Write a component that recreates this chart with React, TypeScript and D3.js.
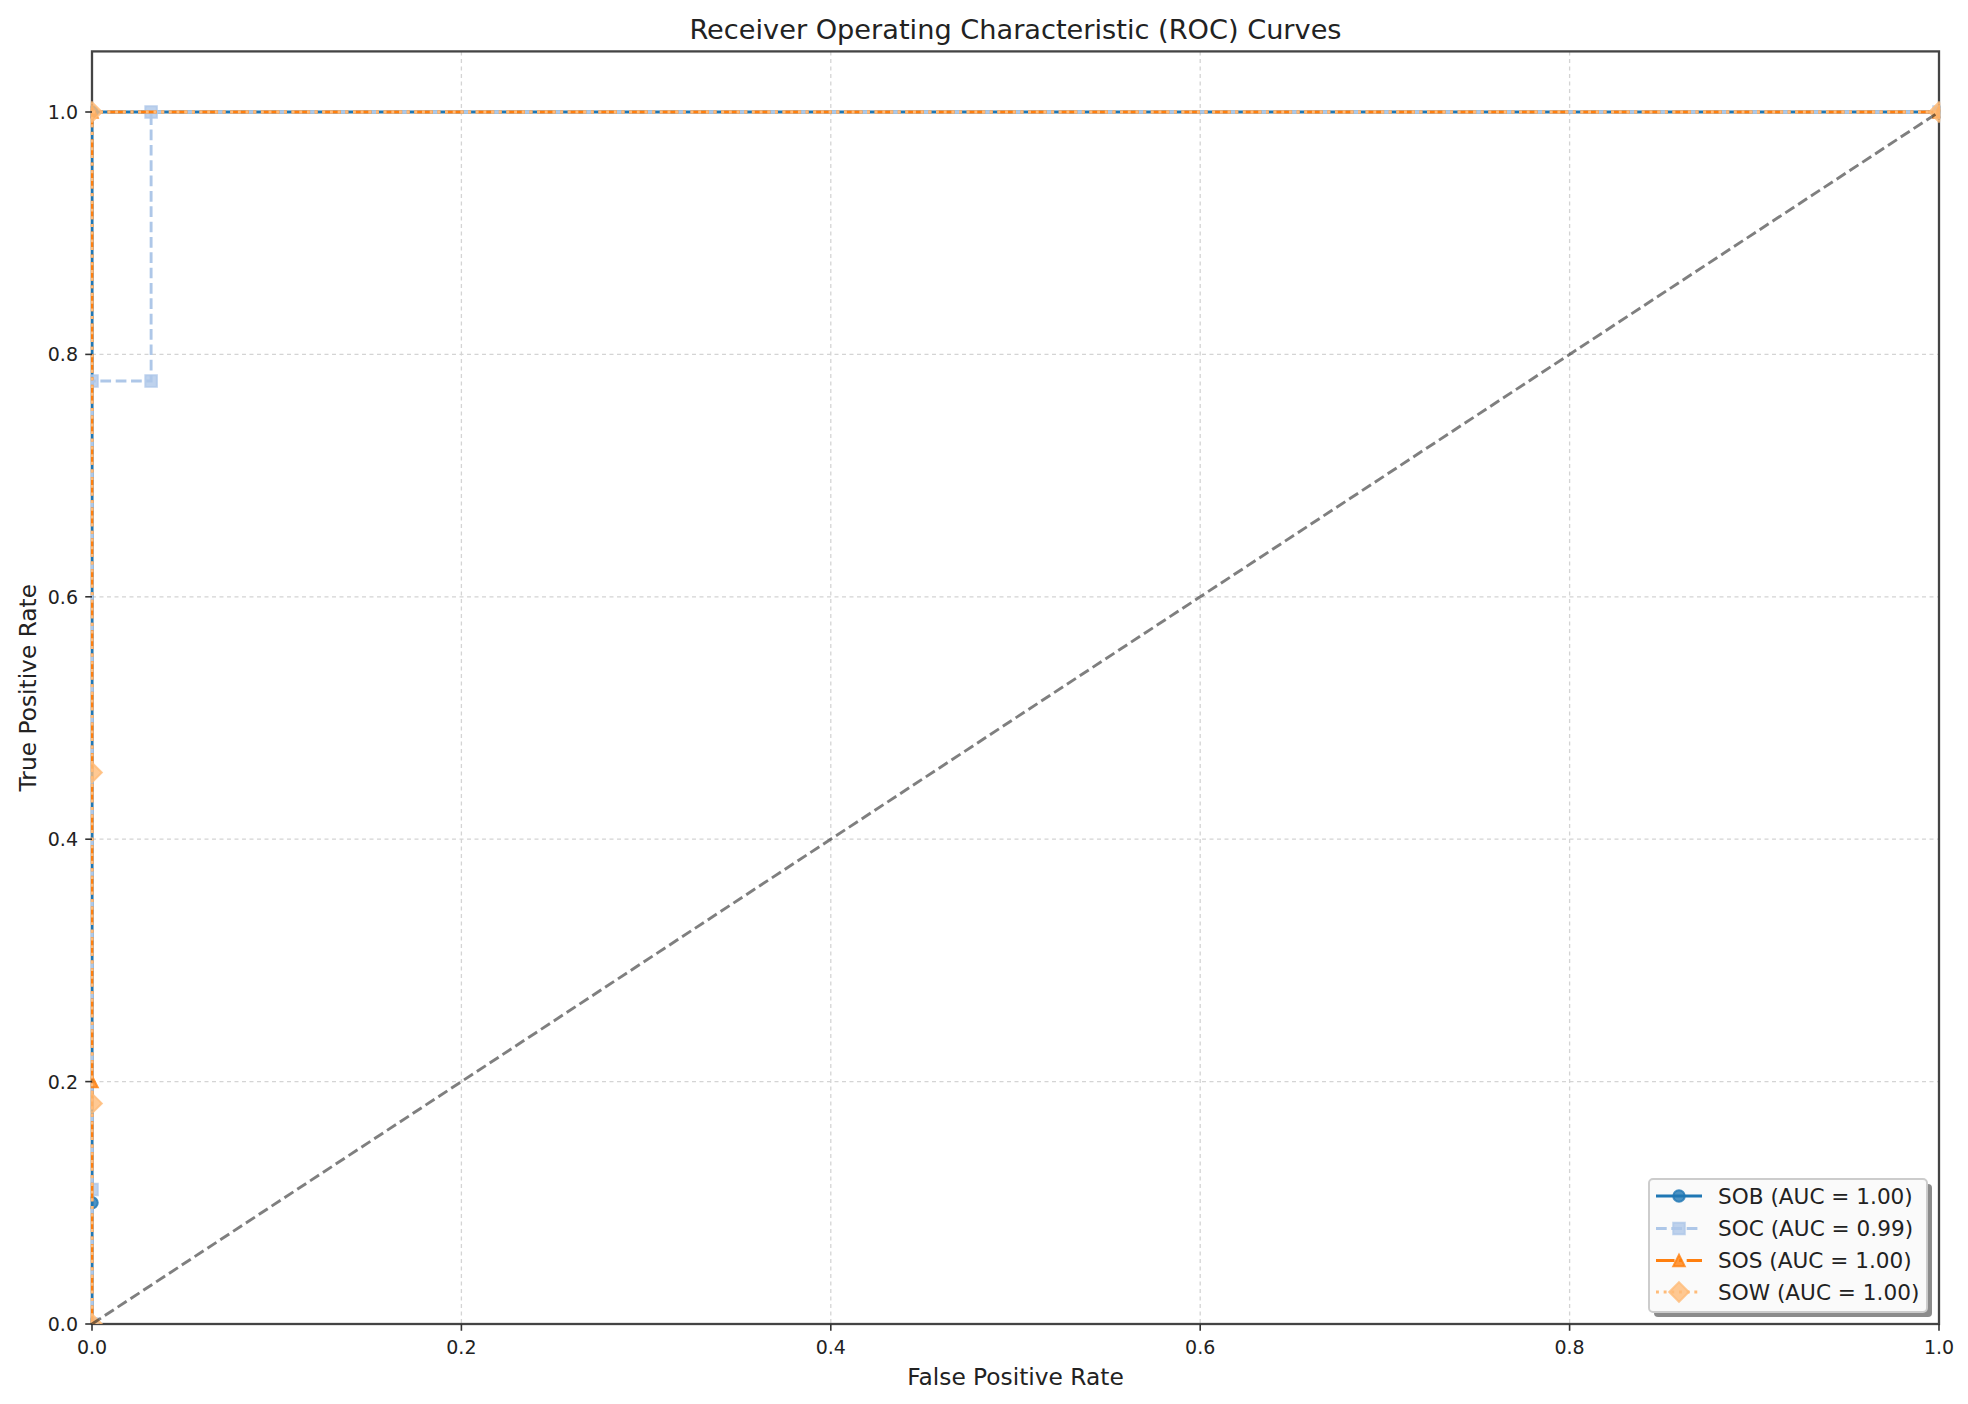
import React, { useEffect } from "react";
import * as d3 from "d3";

const seriesNames = ["SOB", "SOC", "SOS", "SOW"];
const aucLabels = ["1.00", "0.99", "1.00", "1.00"];
const sobFpr = [0, 0, 0, 1];
const sobTpr = [0, 0.1, 1, 1];
const socFpr = [0, 0, 0, 0.032, 0.032, 1];
const socTpr = [0, 0.111, 0.778, 0.778, 1, 1];
const sosFpr = [0, 0, 0, 1];
const sosTpr = [0, 0.2, 1, 1];
const sowFpr = [0, 0, 0, 0, 1];
const sowTpr = [0, 0.182, 0.455, 1, 1];
const xTicks = [0, 0.2, 0.4, 0.6, 0.8, 1.0];
const yTicks = [0, 0.2, 0.4, 0.6, 0.8, 1.0];

const W = 1968;
const H = 1404;
const L = 92, R = 1939, T = 51.4, B = 1324;
const PT = 1.93;
const LW = 1.5 * PT;
const MS = 6 * PT;
const MEW = 1 * PT;
const M_ALPHA = 0.8;
const FONT = "DejaVu Sans";

const colors = ["#1f77b4", "#aec7e8", "#ff7f0e", "#ffbb78"];
const dashes = [
  "",
  `${3.7 * LW} ${1.6 * LW}`,
  `${6.4 * LW} ${1.6 * LW} ${1 * LW} ${1.6 * LW}`,
  `${1 * LW} ${1.65 * LW}`,
];
const markerKinds = ["circle", "square", "triangle", "diamond"];

function markerPath(kind: string, s: number): string {
  const h = s / 2;
  if (kind === "circle") {
    return `M${h},0A${h},${h} 0 1,1 ${-h},0A${h},${h} 0 1,1 ${h},0Z`;
  }
  if (kind === "square") return `M${-h},${-h}H${h}V${h}H${-h}Z`;
  if (kind === "triangle") return `M0,${-h}L${h},${h}L${-h},${h}Z`;
  const d = s * 0.85;
  return `M0,${-d}L${d},0L0,${d}L${-d},0Z`;
}

export default function App() {
  useEffect(() => {
    document.body.style.margin = "0";
  }, []);

  const x = d3.scaleLinear().domain([0, 1]).range([L, R]);
  const y = d3.scaleLinear().domain([0, 1.05]).range([B, T]);

  const series = [
    { fpr: sobFpr, tpr: sobTpr },
    { fpr: socFpr, tpr: socTpr },
    { fpr: sosFpr, tpr: sosTpr },
    { fpr: sowFpr, tpr: sowTpr },
  ];

  const line = d3
    .line<[number, number]>()
    .x((d) => x(d[0]))
    .y((d) => y(d[1]));

  const tickFs = 19;
  const labelFs = 23.3;
  const titleFs = 27.2;
  const legFs = 21.6;

  const legX = 1649, legY = 1179, legW = 278, legH = 133;
  const rowYs = [1196, 1228.5, 1260.5, 1292];
  const hx0 = 1656, hx1 = 1702;

  return (
    <svg width={W} height={H} xmlns="http://www.w3.org/2000/svg" style={{ display: "block", background: "#fff" }}>
      <defs>
        <clipPath id="axclip">
          <rect x={L - 1.2} y={T} width={R - L + 2.4} height={B - T} />
        </clipPath>
      </defs>
      <rect x={0} y={0} width={W} height={H} fill="#fff" />
      {/* grid */}
      <g stroke="#d4d4d4" strokeWidth={1.3} strokeDasharray="4 3.5">
        {xTicks.map((t, i) => (
          <line key={"gx" + i} x1={x(t)} x2={x(t)} y1={T} y2={B} />
        ))}
        {yTicks.map((t, i) => (
          <line key={"gy" + i} x1={L} x2={R} y1={y(t)} y2={y(t)} />
        ))}
      </g>
      {/* spines */}
      <rect x={L} y={T} width={R - L} height={B - T} fill="none" stroke="#444" strokeWidth={2.3} />
      {/* curves */}
      <g clipPath="url(#axclip)">
        {series.map((s, i) => {
          const pts: [number, number][] = s.fpr.map((f, j) => [f, s.tpr[j]]);
          return (
            <g key={"s" + i}>
              <path
                d={line(pts) || ""}
                fill="none"
                stroke={colors[i]}
                strokeWidth={LW}
                strokeDasharray={dashes[i] || undefined}
                strokeLinecap={i === 0 ? "square" : "butt"}
              />
              {pts.map((p, j) => (
                <path
                  key={j}
                  d={markerPath(markerKinds[i], MS)}
                  transform={`translate(${x(p[0])},${y(p[1])})`}
                  fill={colors[i]}
                  fillOpacity={M_ALPHA}
                  stroke={colors[i]}
                  strokeOpacity={M_ALPHA}
                  strokeWidth={MEW}
                />
              ))}
            </g>
          );
        })}
        <line
          x1={x(0)}
          y1={y(0)}
          x2={x(1)}
          y2={y(1)}
          stroke="#000"
          strokeOpacity={0.5}
          strokeWidth={LW}
          strokeDasharray={`${3.7 * LW} ${1.6 * LW}`}
        />
      </g>
      {/* ticks */}
      <g stroke="#333" strokeWidth={1.6}>
        {xTicks.map((t, i) => (
          <line key={"tx" + i} x1={x(t)} x2={x(t)} y1={B} y2={B + 3.5 * PT} />
        ))}
        {yTicks.map((t, i) => (
          <line key={"ty" + i} x1={L} x2={L - 3.5 * PT} y1={y(t)} y2={y(t)} />
        ))}
      </g>
      <g fontFamily={FONT} fontSize={tickFs} fill="#222">
        {xTicks.map((t, i) => (
          <text key={"lx" + i} x={x(t)} y={B + 30} textAnchor="middle">
            {d3.format(".1f")(t)}
          </text>
        ))}
        {yTicks.map((t, i) => (
          <text key={"ly" + i} x={L - 14} y={y(t) + 7} textAnchor="end">
            {d3.format(".1f")(t)}
          </text>
        ))}
      </g>
      <text x={(L + R) / 2} y={1385} textAnchor="middle" fontFamily={FONT} fontSize={labelFs} fill="#222">
        False Positive Rate
      </text>
      <text
        transform={`translate(${36},${(T + B) / 2}) rotate(-90)`}
        textAnchor="middle"
        fontFamily={FONT}
        fontSize={labelFs}
        fill="#222"
      >
        True Positive Rate
      </text>
      <text x={(L + R) / 2} y={39} textAnchor="middle" fontFamily={FONT} fontSize={titleFs} fill="#222">
        Receiver Operating Characteristic (ROC) Curves
      </text>
      {/* legend */}
      <rect x={legX + 5} y={legY + 5} width={legW} height={legH} rx={4} fill="#000" fillOpacity={0.45} />
      <rect x={legX} y={legY} width={legW} height={legH} rx={4} fill="#fafafa" stroke="#cccccc" strokeWidth={PT} />
      {seriesNames.map((n, i) => (
        <g key={"leg" + i}>
          <line
            x1={hx0}
            x2={hx1}
            y1={rowYs[i]}
            y2={rowYs[i]}
            stroke={colors[i]}
            strokeWidth={LW}
            strokeDasharray={dashes[i] || undefined}
          />
          <path
            d={markerPath(markerKinds[i], MS)}
            transform={`translate(${(hx0 + hx1) / 2},${rowYs[i]})`}
            fill={colors[i]}
            fillOpacity={M_ALPHA}
            stroke={colors[i]}
            strokeOpacity={M_ALPHA}
            strokeWidth={MEW}
          />
          <text x={1718} y={rowYs[i] + 7.8} fontFamily={FONT} fontSize={legFs} fill="#222">
            {`${n} (AUC = ${aucLabels[i]})`}
          </text>
        </g>
      ))}
    </svg>
  );
}
